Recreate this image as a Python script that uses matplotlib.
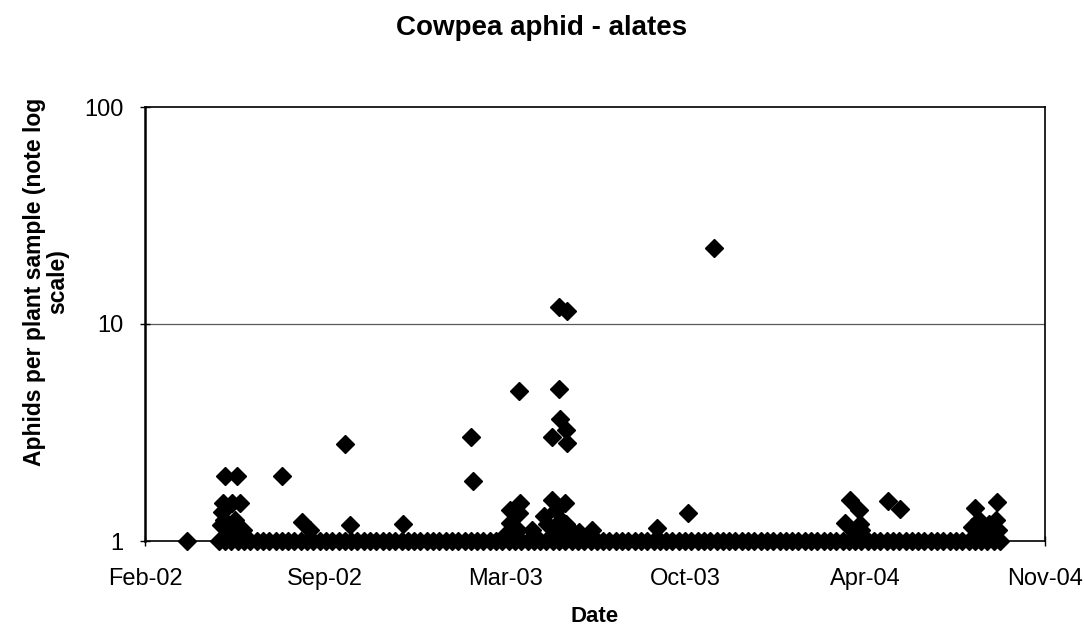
import matplotlib
matplotlib.use("Agg")
import matplotlib.pyplot as plt
import matplotlib.dates as mdates
import pandas as pd

plt.rcParams['font.family'] = ['Liberation Sans', 'DejaVu Sans']

# sampling dates where one alate per plant sample was recorded (plotted at 1)
base_dates = [
    "2002-04-01",
    "2002-05-06", "2002-05-13", "2002-05-20", "2002-05-27", "2002-06-03", "2002-06-10",
    "2002-06-17", "2002-06-24", "2002-07-01", "2002-07-08", "2002-07-15", "2002-07-22",
    "2002-07-29", "2002-08-05", "2002-08-12", "2002-08-19", "2002-08-26", "2002-09-02",
    "2002-09-09", "2002-09-16", "2002-09-23", "2002-09-30", "2002-10-07", "2002-10-14",
    "2002-10-21", "2002-10-28", "2002-11-04", "2002-11-11", "2002-11-18", "2002-11-25",
    "2002-12-02", "2002-12-09", "2002-12-16", "2002-12-23", "2002-12-30",
    "2003-01-06", "2003-01-13", "2003-01-20", "2003-01-27", "2003-02-03", "2003-02-10",
    "2003-02-17", "2003-02-24", "2003-03-03", "2003-03-10", "2003-03-17", "2003-03-24",
    "2003-03-31", "2003-04-07", "2003-04-14", "2003-04-21", "2003-04-28", "2003-05-05",
    "2003-05-12", "2003-05-19", "2003-05-26", "2003-06-02", "2003-06-09", "2003-06-16",
    "2003-06-23", "2003-06-30", "2003-07-07", "2003-07-14", "2003-07-21", "2003-07-28",
    "2003-08-04", "2003-08-11", "2003-08-18", "2003-08-25", "2003-09-01", "2003-09-08",
    "2003-09-15", "2003-09-22", "2003-09-29", "2003-10-06", "2003-10-13", "2003-10-20",
    "2003-10-27", "2003-11-03", "2003-11-10", "2003-11-17", "2003-11-24", "2003-12-01",
    "2003-12-08", "2003-12-15", "2003-12-22", "2003-12-29",
    "2004-01-05", "2004-01-12", "2004-01-19", "2004-01-26", "2004-02-02", "2004-02-09",
    "2004-02-16", "2004-02-23", "2004-03-01", "2004-03-08", "2004-03-15", "2004-03-22",
    "2004-03-29", "2004-04-05", "2004-04-12", "2004-04-19", "2004-04-26", "2004-05-03",
    "2004-05-10", "2004-05-17", "2004-05-24", "2004-05-31", "2004-06-07", "2004-06-14",
    "2004-06-21", "2004-06-28", "2004-07-05", "2004-07-12", "2004-07-19", "2004-07-26",
    "2004-08-02", "2004-08-09", "2004-08-16", "2004-08-23", "2004-08-30", "2004-09-06",
    "2004-09-13", "2004-09-20",
]

# samples with more than one alate
peak_dates = [
    "2002-05-08", "2002-05-10", "2002-05-11", "2002-05-12", "2002-05-13", "2002-05-16",
    "2002-05-21", "2002-05-24", "2002-05-26", "2002-05-27", "2002-05-30", "2002-06-02",
    "2002-07-15", "2002-08-06", "2002-08-15", "2002-09-23", "2002-09-29", "2002-11-27",
    "2003-02-10", "2003-02-12", "2003-03-22", "2003-03-25", "2003-03-26", "2003-04-03",
    "2003-04-04", "2003-04-05", "2003-04-06", "2003-04-19", "2003-05-02", "2003-05-06",
    "2003-05-11", "2003-05-11", "2003-05-14", "2003-05-16", "2003-05-19", "2003-05-19",
    "2003-05-20", "2003-05-21", "2003-05-26", "2003-05-27", "2003-05-27", "2003-05-28",
    "2003-05-28", "2003-06-01", "2003-06-10", "2003-06-25", "2003-09-05", "2003-10-09",
    "2003-11-07", "2004-04-01", "2004-04-06", "2004-04-11", "2004-04-16", "2004-04-17",
    "2004-04-19", "2004-05-19", "2004-06-01", "2004-08-20", "2004-08-23", "2004-08-28",
    "2004-09-02", "2004-09-08", "2004-09-15", "2004-09-17", "2004-09-18",
]
peak_counts = [
    1.18, 1.36, 1.5, 1.25, 2.0, 1.12,
    1.5, 1.25, 2.0, 1.12, 1.5, 1.12,
    2.0, 1.22, 1.12, 2.8, 1.18, 1.2,
    3.0, 1.9, 1.09, 1.39, 1.21, 1.12,
    4.9, 1.35, 1.5, 1.12, 1.3, 1.2,
    3.0, 1.54, 1.1, 1.39, 12.0, 5.0,
    3.65, 1.25, 1.5, 3.25, 1.2, 11.5,
    2.83, 1.12, 1.1, 1.12, 1.15, 1.35,
    22.4, 1.21, 1.55, 1.1, 1.39, 1.2,
    1.12, 1.53, 1.4, 1.16, 1.42, 1.25,
    1.1, 1.2, 1.25, 1.51, 1.12,
]

# Excel-style date axis: 200-day major unit starting 13 Feb 2002
axis_start = pd.Timestamp("2002-02-13")
axis_end = pd.Timestamp("2004-11-09")
tick_dates = [pd.Timestamp(d) for d in
              ["2002-02-13", "2002-09-01", "2003-03-20", "2003-10-06", "2004-04-23", "2004-11-09"]]

base_x = pd.to_datetime(base_dates)
peak_x = pd.to_datetime(peak_dates)

fig = plt.figure(figsize=(10.85, 6.29), dpi=100)
ax = fig.add_axes([145 / 1085, 1 - 541 / 629, 900 / 1085, 434 / 629])

ax.set_yscale('log')
ax.set_ylim(1, 100)
ax.set_xlim(axis_start, axis_end)

ax.axhline(10, color='0.35', lw=0.9, zorder=1)

style = dict(linestyle='none', marker='D', ms=9.5, color='black', clip_on=False, zorder=3)
ax.plot(base_x, [1] * len(base_x), **style)
ax.plot(peak_x, peak_counts, **style)

ax.set_xticks(tick_dates)
ax.xaxis.set_major_formatter(mdates.DateFormatter('%b-%y'))
ax.set_yticks([1, 10, 100])
ax.set_yticklabels(['1', '10', '100'])
ax.yaxis.set_minor_locator(matplotlib.ticker.NullLocator())
ax.tick_params(axis='both', which='major', direction='inout', length=7, width=1,
               labelsize=17, colors='black')
ax.tick_params(axis='x', pad=16)
ax.tick_params(axis='y', pad=12)

for side in ['top', 'right', 'bottom']:
    ax.spines[side].set_linewidth(1.2)
ax.spines['left'].set_linewidth(1.8)

fig.text(542 / 1085, 1 - 35 / 629, 'Cowpea aphid - alates', ha='center', va='baseline',
         fontsize=20, fontweight='bold')
fig.text(595 / 1085, 1 - 617 / 629, 'Date', ha='center', va='center',
         fontsize=16, fontweight='bold')
fig.text(46 / 1085, 1 - 282 / 629, 'Aphids per plant sample (note log\nscale)',
         ha='center', va='center', rotation=90, multialignment='center',
         linespacing=1.05, fontsize=16.5, fontweight='bold')

fig.savefig('out.png', dpi=100, facecolor='white')
